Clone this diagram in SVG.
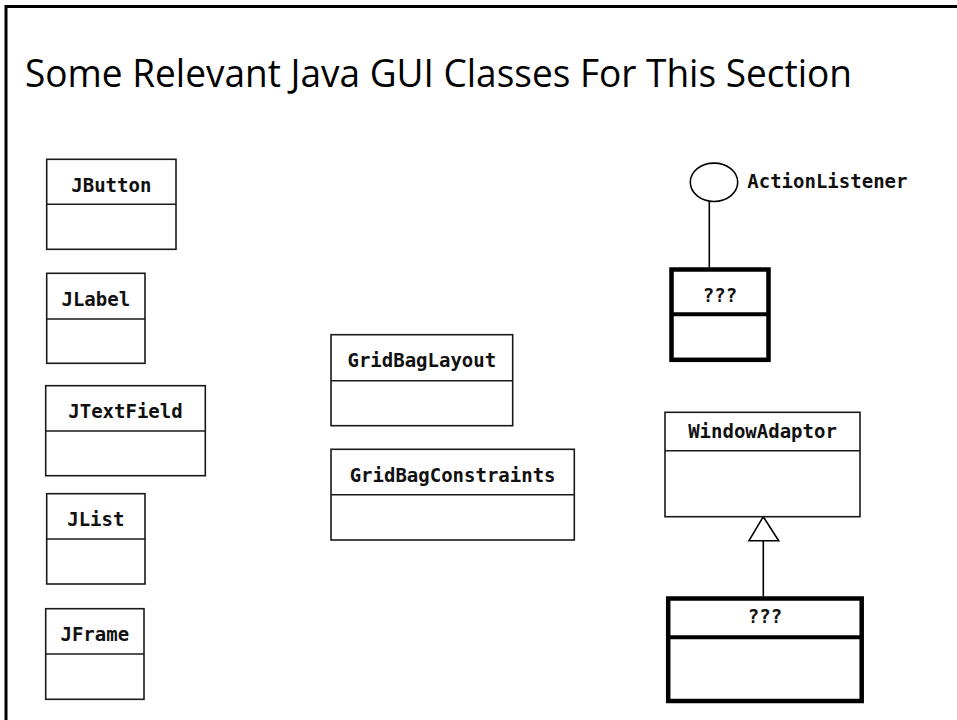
<svg xmlns="http://www.w3.org/2000/svg" width="957" height="720" viewBox="0 0 957 720">
<style>
.box{fill:#fff;stroke:#1a1a1a;stroke-width:1.6}
.thick{fill:#fff;stroke:#000;stroke-width:4.5}
.div{stroke:#1a1a1a;stroke-width:1.6}
.divt{stroke:#000;stroke-width:4}
.lbl{font-family:"DejaVu Sans Mono","Liberation Mono",monospace;font-weight:bold;font-size:19px;fill:#111;text-anchor:middle}
.conn{stroke:#000;stroke-width:1.6;fill:none}
</style>
<rect x="0" y="0" width="957" height="720" fill="#fff"/>
<path d="M6 720 V6.5 H957" fill="none" stroke="#000" stroke-width="3"/>
<text x="25" y="87" font-family="'Open Sans','Noto Sans',sans-serif" font-size="38" fill="#000" textLength="827" lengthAdjust="spacingAndGlyphs">Some Relevant Java GUI Classes For This Section</text>

<g id="connectors">
<line class="conn" x1="709.3" y1="201.5" x2="709.3" y2="267.5"/>
<line class="conn" x1="763.3" y1="540.7" x2="763.3" y2="596.5"/>
<polygon points="763.3,516.7 749,540.7 778.7,540.7" fill="#fff" stroke="#000" stroke-width="1.6"/>
</g>

<g id="JButton">
<rect class="box" x="46.7" y="159.3" width="129.3" height="90"/>
<line class="div" x1="46.7" y1="204.3" x2="176" y2="204.3"/>
<text class="lbl" x="111.3" y="192">JButton</text>
</g>
<g id="JLabel">
<rect class="box" x="46.7" y="273.3" width="98.3" height="90"/>
<line class="div" x1="46.7" y1="319" x2="145" y2="319"/>
<text class="lbl" x="95.8" y="306">JLabel</text>
</g>
<g id="JTextField">
<rect class="box" x="45.7" y="385.7" width="159.6" height="90"/>
<line class="div" x1="45.7" y1="431" x2="205.3" y2="431"/>
<text class="lbl" x="125.5" y="417.5">JTextField</text>
</g>
<g id="JList">
<rect class="box" x="46.7" y="493.7" width="98.3" height="90.3"/>
<line class="div" x1="46.7" y1="539" x2="145" y2="539"/>
<text class="lbl" x="95.8" y="526">JList</text>
</g>
<g id="JFrame">
<rect class="box" x="45.7" y="608.7" width="98.3" height="90.6"/>
<line class="div" x1="45.7" y1="654" x2="144" y2="654"/>
<text class="lbl" x="94.8" y="641">JFrame</text>
</g>
<g id="GridBagLayout">
<rect class="box" x="331" y="334.7" width="181.7" height="91"/>
<line class="div" x1="331" y1="380.7" x2="512.7" y2="380.7"/>
<text class="lbl" x="421.8" y="367">GridBagLayout</text>
</g>
<g id="GridBagConstraints">
<rect class="box" x="331" y="449.3" width="243.3" height="90.7"/>
<line class="div" x1="331" y1="494.7" x2="574.3" y2="494.7"/>
<text class="lbl" x="452.6" y="481.5">GridBagConstraints</text>
</g>
<g id="ActionListener">
<ellipse cx="714" cy="182.3" rx="23.7" ry="19.2" fill="#fff" stroke="#000" stroke-width="1.6"/>
<text class="lbl" x="747.3" y="187.5" text-anchor="start" style="text-anchor:start">ActionListener</text>
</g>
<g id="Listener">
<rect class="thick" x="671.5" y="269.5" width="97" height="90.3"/>
<line class="divt" x1="671.5" y1="314.3" x2="768.5" y2="314.3"/>
<text class="lbl" x="720" y="301.7">???</text>
</g>
<g id="WindowAdaptor">
<rect class="box" x="665" y="412.3" width="195" height="104.4"/>
<line class="div" x1="665" y1="450.7" x2="860" y2="450.7"/>
<text class="lbl" x="762.5" y="437.5">WindowAdaptor</text>
</g>
<g id="Adaptor">
<rect class="thick" x="668.2" y="598.5" width="193.5" height="102.5"/>
<line class="divt" x1="668.2" y1="637.3" x2="861.7" y2="637.3"/>
<text class="lbl" x="765" y="622.7">???</text>
</g>
</svg>
